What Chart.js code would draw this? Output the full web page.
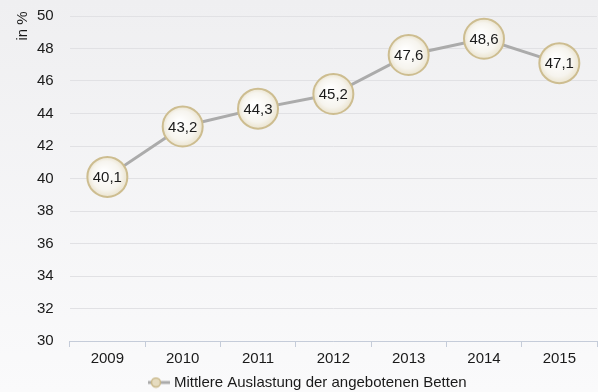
<!DOCTYPE html>
<html>
<head>
<meta charset="utf-8">
<script src="https://cdn.jsdelivr.net/npm/chart.js@4/dist/chart.umd.min.js"></script>
<style>
  html, body { margin: 0; padding: 0; background: #ffffff; }
  #wrap { width: 598px; height: 392px; position: relative; }
</style>
</head>
<body>
<div id="wrap"><canvas id="c"></canvas></div>
<script>
const years = ['2009', '2010', '2011', '2012', '2013', '2014', '2015'];
const occupancy = [40.1, 43.2, 44.3, 45.2, 47.6, 48.6, 47.1];
const seriesName = 'Mittlere Auslastung der angebotenen Betten';
const axisTitle = 'in %';

const FONT = 'Liberation Sans, Arial, sans-serif';

// soft gray backdrop behind the whole chart
const backdrop = {
  id: 'backdrop',
  beforeDraw(chart) {
    const { ctx, width, height } = chart;
    const g = ctx.createLinearGradient(0, 0, 0, height);
    g.addColorStop(0, '#efeff1');
    g.addColorStop(1, '#fafafb');
    ctx.save();
    ctx.fillStyle = g;
    ctx.fillRect(0, 0, width, height);
    ctx.restore();
  }
};

// rotated unit label beside the top of the value axis
const unitLabel = {
  id: 'unitLabel',
  afterDraw(chart) {
    const { ctx } = chart;
    const top = chart.scales.y.top;
    ctx.save();
    ctx.translate(23, top + 10);
    ctx.rotate(-Math.PI / 2);
    ctx.font = '15px ' + FONT;
    ctx.fillStyle = '#1a1a1a';
    ctx.textAlign = 'center';
    ctx.textBaseline = 'middle';
    ctx.fillText(axisTitle, 0, 0);
    ctx.restore();
  }
};

// value text inside each circle marker, German decimal comma
const valueLabels = {
  id: 'valueLabels',
  afterDatasetsDraw(chart) {
    const { ctx } = chart;
    const meta = chart.getDatasetMeta(0);
    ctx.save();
    ctx.font = '15px ' + FONT;
    ctx.fillStyle = '#1a1a1a';
    ctx.textAlign = 'center';
    ctx.textBaseline = 'middle';
    meta.data.forEach((pt, i) => {
      const txt = occupancy[i].toFixed(1).replace('.', ',');
      ctx.fillText(txt, pt.x, pt.y + 1);
    });
    ctx.restore();
  }
};

// marker fill: white centre fading to cream at the rim
function markerFill(ctx) {
  const el = ctx.element;
  if (!el || !isFinite(el.x) || !isFinite(el.y)) return '#f5f3ec';
  const g = ctx.chart.ctx.createRadialGradient(el.x - 4, el.y - 4, 2, el.x, el.y, 20);
  g.addColorStop(0, '#ffffff');
  g.addColorStop(0.7, '#f6f4ee');
  g.addColorStop(1, '#ebe4cf');
  return g;
}

// legend marker: short line with a small circle
function legendMarker() {
  const cv = document.createElement('canvas');
  cv.width = 22; cv.height = 12;
  const x = cv.getContext('2d');
  x.strokeStyle = '#aaaaaa';
  x.lineWidth = 3;
  x.beginPath(); x.moveTo(0, 6); x.lineTo(22, 6); x.stroke();
  x.fillStyle = '#e6dcc0';
  x.strokeStyle = '#c9b88a';
  x.lineWidth = 1.5;
  x.beginPath(); x.arc(8, 6, 4.5, 0, Math.PI * 2); x.fill(); x.stroke();
  return cv;
}

const chart = new Chart(document.getElementById('c'), {
  type: 'line',
  data: {
    labels: years,
    datasets: [{
      label: seriesName,
      data: occupancy,
      borderColor: '#ababab',
      borderWidth: 3,
      pointRadius: 20,
      pointHoverRadius: 20,
      pointBackgroundColor: '#f5f3ec',
      pointBorderColor: '#cdbd90',
      pointBorderWidth: 2,
      tension: 0,
      clip: false
    }]
  },
  options: {
    responsive: true,
    maintainAspectRatio: false,
    animation: false,
    layout: { autoPadding: false, padding: { left: 21, right: 1, top: 0, bottom: -8 } },
    plugins: {
      tooltip: { enabled: false },
      legend: {
        position: 'bottom',
        labels: {
          font: { family: FONT, size: 15 },
          color: '#1a1a1a',
          usePointStyle: true,
          padding: 4,
          generateLabels() {
            return [{
              text: seriesName,
              fontColor: '#1a1a1a',
              hidden: false,
              pointStyle: legendMarker(),
              fillStyle: '#e6dcc0',
              strokeStyle: '#c9b88a',
              lineWidth: 0,
              datasetIndex: 0
            }];
          }
        }
      }
    },
    scales: {
      x: {
        offset: true,
        grid: {
          offset: true,
          display: true,
          drawOnChartArea: false,
          drawTicks: true,
          tickLength: 6,
          color: '#c5ccd9'
        },
        border: { color: '#c5ccd9', width: 1 },
        ticks: {
          font: { family: FONT, size: 15 },
          color: '#1a1a1a',
          padding: 3
        }
      },
      y: {
        min: 30,
        max: 50,
        afterFit(scale) {
          // keep the top gridline close to the canvas edge
          scale.paddingTop = 16;
        },
        ticks: {
          stepSize: 2,
          font: { family: FONT, size: 15 },
          color: '#1a1a1a',
          padding: 16
        },
        grid: {
          color: '#e1e1e4',
          drawTicks: false
        },
        border: { display: false }
      }
    }
  },
  plugins: [backdrop, valueLabels, unitLabel]
});
// gradient fill needs final point positions
chart.data.datasets[0].pointBackgroundColor = markerFill;
chart.update('none');
</script>
</body>
</html>
